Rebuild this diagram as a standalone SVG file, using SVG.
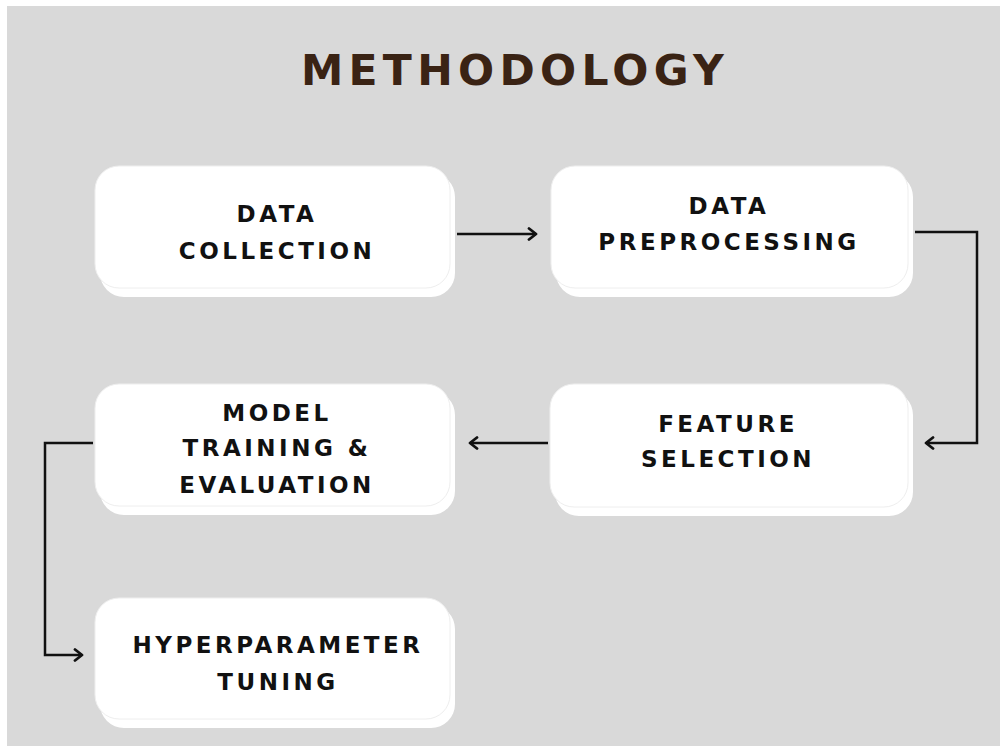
<svg xmlns="http://www.w3.org/2000/svg" width="1000" height="746" viewBox="0 0 1000 746">
  <defs>
    <style>
      .bg { fill: #d9d9d9; }
      .card-back { fill: #ffffff; }
      .card { fill: #ffffff; stroke: #eeeeee; stroke-width: 1; }
      .title { font-family: "DejaVu Sans", "Liberation Sans", sans-serif; font-weight: bold; font-size: 42.5px; letter-spacing: 5.3px; fill: #3a2314; text-anchor: middle; }
      .label { font-family: "DejaVu Sans", "Liberation Sans", sans-serif; font-weight: bold; font-size: 23px; letter-spacing: 3.5px; fill: #111111; text-anchor: middle; }
      .link { fill: none; stroke: #111111; stroke-width: 2.5; marker-end: url(#chev); }
    </style>
    <marker id="chev" viewBox="0 0 12 14" refX="10" refY="7" markerWidth="12" markerHeight="14" markerUnits="userSpaceOnUse" orient="auto">
      <path d="M3,1.5 L10,7 L3,12.5" fill="none" stroke="#111111" stroke-width="2.8" stroke-linecap="round" stroke-linejoin="round"/>
    </marker>
  </defs>

  <rect x="0" y="0" width="1000" height="746" fill="#ffffff"/>
  <rect class="bg" x="7" y="6" width="993" height="740"/>

  <text class="title" x="515" y="85">METHODOLOGY</text>

  <g id="connectors">
    <path class="link" d="M457,234 H536"/>
    <path class="link" d="M915,232 H977 V443 H926"/>
    <path class="link" d="M548,443 H470"/>
    <path class="link" d="M93,443 H45 V655 H82"/>
  </g>

  <g id="data-collection">
    <rect class="card-back" x="100" y="173" width="355" height="124" rx="24"/>
    <rect class="card" x="95" y="166" width="355" height="122" rx="24"/>
    <text class="label" x="277" y="222">DATA</text>
    <text class="label" x="277" y="259">COLLECTION</text>
  </g>

  <g id="data-preprocessing">
    <rect class="card-back" x="556" y="173" width="357" height="124" rx="24"/>
    <rect class="card" x="551" y="166" width="357" height="122" rx="24"/>
    <text class="label" x="729" y="214">DATA</text>
    <text class="label" x="729" y="250">PREPROCESSING</text>
  </g>

  <g id="feature-selection">
    <rect class="card-back" x="555" y="391" width="358" height="125" rx="24"/>
    <rect class="card" x="550" y="384" width="358" height="123" rx="24"/>
    <text class="label" x="728" y="432">FEATURE</text>
    <text class="label" x="728" y="467">SELECTION</text>
  </g>

  <g id="model-training">
    <rect class="card-back" x="100" y="391" width="355" height="124" rx="24"/>
    <rect class="card" x="95" y="384" width="355" height="122" rx="24"/>
    <text class="label" x="277" y="421">MODEL</text>
    <text class="label" x="277" y="456">TRAINING &amp;</text>
    <text class="label" x="277" y="493">EVALUATION</text>
  </g>

  <g id="hyperparameter-tuning">
    <rect class="card-back" x="100" y="605" width="355" height="123" rx="24"/>
    <rect class="card" x="95" y="598" width="355" height="121" rx="24"/>
    <text class="label" x="278" y="653">HYPERPARAMETER</text>
    <text class="label" x="278" y="690">TUNING</text>
  </g>
</svg>
